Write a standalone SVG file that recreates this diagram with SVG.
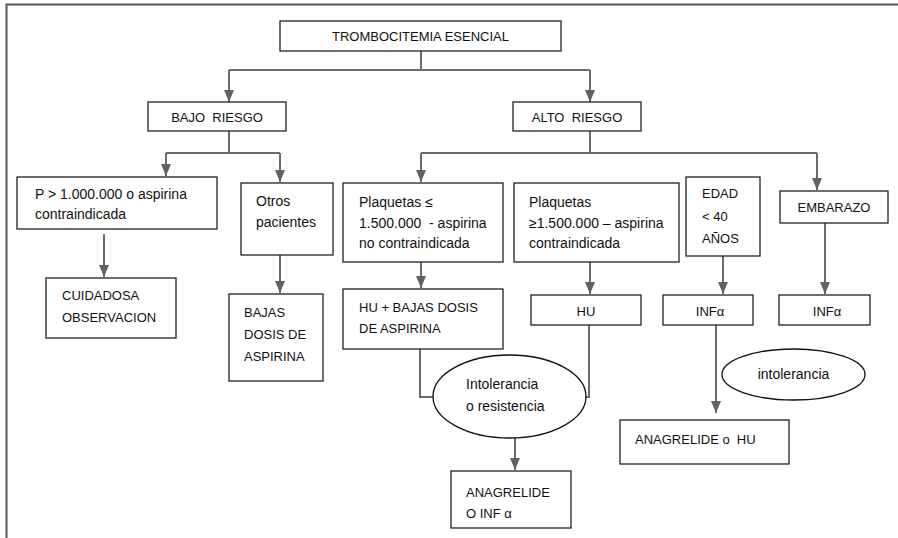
<svg xmlns="http://www.w3.org/2000/svg" width="898" height="538" viewBox="0 0 898 538">
<style>
.box{fill:#fff;stroke:#222;stroke-width:1.3}
.ell{fill:#fff;stroke:#111;stroke-width:1.3}
.t{font-family:"Liberation Sans",Arial,sans-serif;font-size:13px;fill:#111}
.l{font-size:14px}
.c{fill:none;stroke:#6b6b6b;stroke-width:2}
.frame{stroke:#555;stroke-width:2;fill:none}
</style>
<defs>
<marker id="ah" markerWidth="12" markerHeight="10" refX="12" refY="5" orient="auto" markerUnits="userSpaceOnUse" viewBox="0 0 12 10">
<path d="M0,0 L12,5 L0,10 Z" fill="#626262"/>
</marker>
</defs>
<rect width="898" height="538" fill="#fff"/>
<path class="frame" d="M6.5,538 V4.5 H898"/>

<g id="connectors">
<path class="c" d="M421,51 V70"/>
<path class="c" d="M229,70 H590"/>
<path class="c" d="M229,70 V102" marker-end="url(#ah)"/>
<path class="c" d="M590,70 V102" marker-end="url(#ah)"/>
<path class="c" d="M229,131 V153 M166,153 H280 M590,131 V153 M421,153 H817"/>
<path class="c" d="M166,153 V176" marker-end="url(#ah)"/>
<path class="c" d="M280,153 V182" marker-end="url(#ah)"/>
<path class="c" d="M421,153 V182" marker-end="url(#ah)"/>
<path class="c" d="M817,153 V190" marker-end="url(#ah)"/>
<path class="c" d="M104,234 V277" marker-end="url(#ah)"/>
<path class="c" d="M280,255 V293" marker-end="url(#ah)"/>
<path class="c" d="M421,262 V288" marker-end="url(#ah)"/>
<path class="c" d="M590,262 V294" marker-end="url(#ah)"/>
<path class="c" d="M723,256 V294" marker-end="url(#ah)"/>
<path class="c" d="M825,223 V294" marker-end="url(#ah)"/>
<path class="c" d="M420,349 V397 H434"/>
<path class="c" d="M589,325 V397 H585"/>
<path class="c" d="M515,438 V470" marker-end="url(#ah)"/>
<path class="c" d="M716,325 V413" marker-end="url(#ah)"/>
</g>

<g id="trombocitemia"><rect class="box" x="280" y="21" width="281" height="30"/><text class="t" x="420.5" y="41" text-anchor="middle">TROMBOCITEMIA ESENCIAL</text></g>
<g id="bajo-riesgo"><rect class="box" x="148" y="102" width="138" height="29"/><text class="t" x="217" y="122" text-anchor="middle" xml:space="preserve">BAJO  RIESGO</text></g>
<g id="alto-riesgo"><rect class="box" x="513" y="102" width="128" height="29"/><text class="t" x="577" y="122" text-anchor="middle" xml:space="preserve">ALTO  RIESGO</text></g>

<g id="p-mayor"><rect class="box" x="17" y="177" width="200" height="52"/><text class="t l" x="35" y="199">P &gt; 1.000.000 o aspirina</text><text class="t l" x="35" y="219">contraindicada</text></g>
<g id="otros"><rect class="box" x="241" y="183" width="92" height="72"/><text class="t l" x="256" y="206">Otros</text><text class="t l" x="256" y="227">pacientes</text></g>
<g id="plaq-menor"><rect class="box" x="343" y="183" width="160" height="79"/><text class="t l" x="359" y="207">Plaquetas ≤</text><text class="t l" x="359" y="228" xml:space="preserve">1.500.000  - aspirina</text><text class="t l" x="359" y="248">no contraindicada</text></g>
<g id="plaq-mayor"><rect class="box" x="514" y="183" width="165" height="79"/><text class="t l" x="529" y="207">Plaquetas</text><text class="t l" x="529" y="228">≥1.500.000 – aspirina</text><text class="t l" x="529" y="248">contraindicada</text></g>
<g id="edad"><rect class="box" x="686" y="177" width="74" height="79"/><text class="t" x="702" y="198">EDAD</text><text class="t" x="702" y="221">&lt; 40</text><text class="t" x="702" y="243">AÑOS</text></g>
<g id="embarazo"><rect class="box" x="780" y="191" width="108" height="32"/><text class="t" x="834" y="212" text-anchor="middle">EMBARAZO</text></g>

<g id="cuidadosa"><rect class="box" x="46" y="278" width="130" height="60"/><text class="t" x="62" y="300">CUIDADOSA</text><text class="t" x="62" y="322">OBSERVACION</text></g>
<g id="bajas-dosis"><rect class="box" x="229" y="294" width="94" height="87"/><text class="t" x="244" y="317">BAJAS</text><text class="t" x="244" y="339">DOSIS DE</text><text class="t" x="244" y="361">ASPIRINA</text></g>
<g id="hu-bajas"><rect class="box" x="343" y="289" width="160" height="60"/><text class="t" x="359" y="312">HU + BAJAS DOSIS</text><text class="t" x="359" y="333">DE ASPIRINA</text></g>
<g id="hu"><rect class="box" x="531" y="295" width="110" height="30"/><text class="t" x="586" y="316" text-anchor="middle">HU</text></g>
<g id="inf-1"><rect class="box" x="663" y="295" width="90" height="30"/><text class="t" x="710" y="316" text-anchor="middle">INFα</text></g>
<g id="inf-2"><rect class="box" x="779" y="295" width="91" height="30"/><text class="t" x="827" y="316" text-anchor="middle">INFα</text></g>

<g id="intolerancia-resistencia"><ellipse class="ell" cx="509.5" cy="396.5" rx="76.5" ry="41.5"/><text class="t l" x="466" y="389">Intolerancia</text><text class="t l" x="466" y="411">o resistencia</text></g>
<g id="intolerancia"><ellipse class="ell" cx="793.5" cy="374.5" rx="71.5" ry="25.5"/><text class="t l" x="793.5" y="379" text-anchor="middle">intolerancia</text></g>
<g id="anagrelide-inf"><rect class="box" x="451" y="471" width="120" height="57"/><text class="t" x="466" y="497">ANAGRELIDE</text><text class="t" x="466" y="518">O INF α</text></g>
<g id="anagrelide-hu"><rect class="box" x="620" y="420" width="169" height="44"/><text class="t" x="635" y="444" xml:space="preserve">ANAGRELIDE o  HU</text></g>
</svg>
